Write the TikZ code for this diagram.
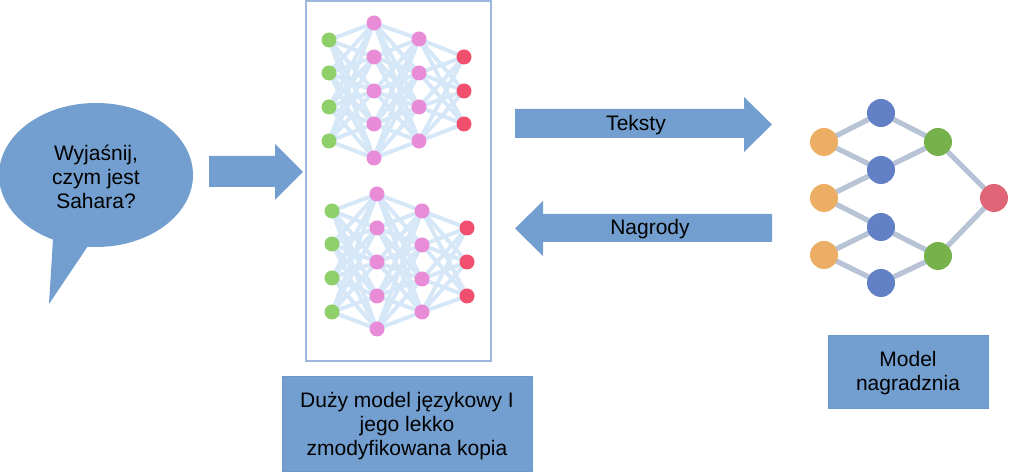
\documentclass[tikz,border=0pt]{standalone}
\usepackage{fontspec}
\setmainfont{Liberation Sans}
\usetikzlibrary{backgrounds}
\definecolor{boxblue}{HTML}{729FCF}
\definecolor{boxline}{HTML}{6A96C8}
\definecolor{panelline}{HTML}{9DB7DE}
\definecolor{ngreen}{HTML}{8FD06A}
\definecolor{npink}{HTML}{E88CD8}
\definecolor{nred}{HTML}{F0506E}
\definecolor{nedgecol}{HTML}{D6E7F8}
\definecolor{rorange}{HTML}{ECAE65}
\definecolor{rblue}{HTML}{6280C6}
\definecolor{rgreen}{HTML}{76B14B}
\definecolor{rred}{HTML}{E06677}
\definecolor{redgecol}{HTML}{B8C4D6}
\tikzset{
  nn/.style={circle, inner sep=0pt, minimum size=7.5pt},
  nedge/.style={draw=nedgecol, line width=2pt},
  rn/.style={circle, inner sep=0pt, minimum size=14pt},
  redge/.style={draw=redgecol, line width=2.6pt},
  blockarrow/.style={fill=boxblue},
  lbl/.style={font=\fontsize{10.5}{12}\selectfont, align=center, text=black},
  labelbox/.style={fill=boxblue, draw=boxline, line width=0.5pt},
}
\begin{document}
\begin{tikzpicture}[x=0.5pt,y=-0.5pt]
\useasboundingbox (0,0) rectangle (1024,474);

% speech bubble
\fill[boxblue] (96,175) ellipse [x radius=97, y radius=72];
\fill[boxblue] (53,239) -- (49,304) -- (88,246) -- cycle;
\node[lbl] (q) at (96,177) {Wyjaśnij,\\czym jest\\Sahara?};

% arrow into panel
\fill[blockarrow] (209,156) -- (275,156) -- (275,144) -- (303,172) -- (275,200) -- (275,187) -- (209,187) -- cycle;

% panel
\draw[panelline, line width=0.6pt] (306,1) rectangle (491,361);

% top network
\foreach \y [count=\i] in {40,73,107,141} \node[nn, fill=ngreen] (tg\i) at (329,\y) {};
\foreach \y [count=\i] in {23,57,91,124,158} \node[nn, fill=npink] (tp\i) at (374,\y) {};
\foreach \y [count=\i] in {39,73,107,141} \node[nn, fill=npink] (tq\i) at (419,\y) {};
\foreach \y [count=\i] in {57,91,124} \node[nn, fill=nred] (tr\i) at (464,\y) {};
% bottom network
\foreach \y [count=\i] in {211,244,278,312} \node[nn, fill=ngreen] (bg\i) at (332,\y) {};
\foreach \y [count=\i] in {194,228,262,296,329} \node[nn, fill=npink] (bp\i) at (377,\y) {};
\foreach \y [count=\i] in {211,245,279,312} \node[nn, fill=npink] (bq\i) at (422,\y) {};
\foreach \y [count=\i] in {228,262,296} \node[nn, fill=nred] (br\i) at (467,\y) {};

\begin{scope}[on background layer]
\foreach \n in {t,b}{
  \foreach \a in {1,...,4}{\foreach \b in {1,...,5}{\draw[nedge] (\n g\a.center) -- (\n p\b.center);}}
  \foreach \a in {1,...,5}{\foreach \b in {1,...,4}{\draw[nedge] (\n p\a.center) -- (\n q\b.center);}}
  \foreach \a in {1,...,4}{\foreach \b in {1,...,3}{\draw[nedge] (\n q\a.center) -- (\n r\b.center);}}
}
\end{scope}

% panel label
\draw[labelbox] (282,377) rectangle (532,472);
\node[lbl] (plabel) at (407,426) {Duży model językowy I\\jego lekko\\zmodyfikowana kopia};

% Teksty arrow
\fill[blockarrow] (515,109) -- (744,109) -- (744,97) -- (772,124.5) -- (744,152) -- (744,138) -- (515,138) -- cycle;
\node[lbl] (teksty) at (636,125) {Teksty};

% Nagrody arrow
\fill[blockarrow] (772,214) -- (543,214) -- (543,201) -- (515,228.5) -- (543,256) -- (543,242) -- (772,242) -- cycle;
\node[lbl] (nagrody) at (650,229) {Nagrody};

% reward model
\node[rn, fill=rorange] (o1) at (824,142) {};
\node[rn, fill=rorange] (o2) at (824,198) {};
\node[rn, fill=rorange] (o3) at (824,255) {};
\node[rn, fill=rblue] (b1) at (881,113) {};
\node[rn, fill=rblue] (b2) at (881,170) {};
\node[rn, fill=rblue] (b3) at (881,227) {};
\node[rn, fill=rblue] (b4) at (881,283) {};
\node[rn, fill=rgreen] (g1) at (938,142) {};
\node[rn, fill=rgreen] (g2) at (938,256) {};
\node[rn, fill=rred] (r1) at (994,198) {};
\begin{scope}[on background layer]
\draw[redge] (o1.center) -- (b1.center);
\draw[redge] (o1.center) -- (b2.center);
\draw[redge] (b1.center) -- (g1.center);
\draw[redge] (b2.center) -- (g1.center);
\draw[redge] (b2.center) -- (o2.center);
\draw[redge] (o2.center) -- (b3.center);
\draw[redge] (b3.center) -- (o3.center);
\draw[redge] (o3.center) -- (b4.center);
\draw[redge] (b3.center) -- (g2.center);
\draw[redge] (b4.center) -- (g2.center);
\draw[redge] (g1.center) -- (r1.center);
\draw[redge] (g2.center) -- (r1.center);
\end{scope}

% reward label
\draw[labelbox] (828,336) rectangle (988,409);
\node[lbl] (rlabel) at (908,373) {Model\\nagradznia};
\end{tikzpicture}
\end{document}
